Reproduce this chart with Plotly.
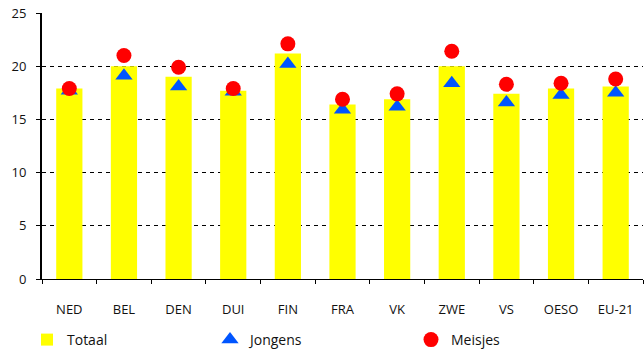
import plotly.graph_objects as go

# Landen / groepen
landen = ["NED", "BEL", "DEN", "DUI", "FIN", "FRA", "VK", "ZWE", "VS", "OESO", "EU-21"]
# Gemiddelde waarden
totaal = [17.9, 20.0, 19.0, 17.7, 21.2, 16.4, 16.9, 20.0, 17.4, 17.9, 18.1]
jongens = [17.7, 19.1, 18.1, 17.6, 20.2, 15.9, 16.2, 18.4, 16.6, 17.3, 17.5]
meisjes = [17.9, 21.0, 19.9, 17.9, 22.1, 16.9, 17.4, 21.4, 18.3, 18.4, 18.8]
y_ticks = [0, 5, 10, 15, 20, 25]

FONT = "Open Sans, DejaVu Sans, sans-serif"
W, H = 644, 349

fig = go.Figure()
fig.add_trace(go.Bar(
    x=landen, y=totaal, name="Totaal", width=0.48,
    marker=dict(color="#FFFF00", line=dict(width=0)),
    legend="legend",
))
fig.add_trace(go.Scatter(
    x=landen, y=jongens, name="Jongens", mode="markers",
    marker=dict(symbol="triangle-up", size=15, color="#0055FF", line=dict(width=0)),
    legend="legend2",
))
fig.add_trace(go.Scatter(
    x=landen, y=meisjes, name="Meisjes", mode="markers",
    marker=dict(symbol="circle", size=15, color="#FF0000", line=dict(width=0)),
    legend="legend3",
))

legend_common = dict(
    orientation="h", xref="container", yref="container",
    yanchor="middle", y=(H - 340) / H, xanchor="left",
    font=dict(family=FONT, size=14, color="#111111"),
    bgcolor="rgba(0,0,0,0)", borderwidth=0, itemwidth=30,
)

fig.update_layout(
    width=W, height=H,
    margin=dict(l=42, r=1, t=13, b=70),
    paper_bgcolor="white", plot_bgcolor="white",
    showlegend=True,
    legend=dict(x=27 / W, **legend_common),
    legend2=dict(x=210 / W, **legend_common),
    legend3=dict(x=411 / W, **legend_common),
    xaxis=dict(
        type="category", range=[-0.5, 10.5],
        tickson="boundaries", ticks="outside", ticklen=4, tickwidth=1, tickcolor="black",
        showline=True, linecolor="black", linewidth=1,
        showgrid=False, zeroline=False,
        tickfont=dict(family=FONT, size=13, color="#111111"),
        ticklabelstandoff=18,
    ),
    yaxis=dict(
        range=[0, 25], tickvals=y_ticks,
        ticks="outside", ticklen=4, tickwidth=1, tickcolor="black",
        showline=True, linecolor="black", linewidth=2,
        showgrid=True, gridcolor="black", gridwidth=1, griddash="4px,4px",
        zeroline=False,
        tickfont=dict(family=FONT, size=13, color="#111111"),
        ticklabelstandoff=7,
    ),
)

fig.write_html("out.html")
